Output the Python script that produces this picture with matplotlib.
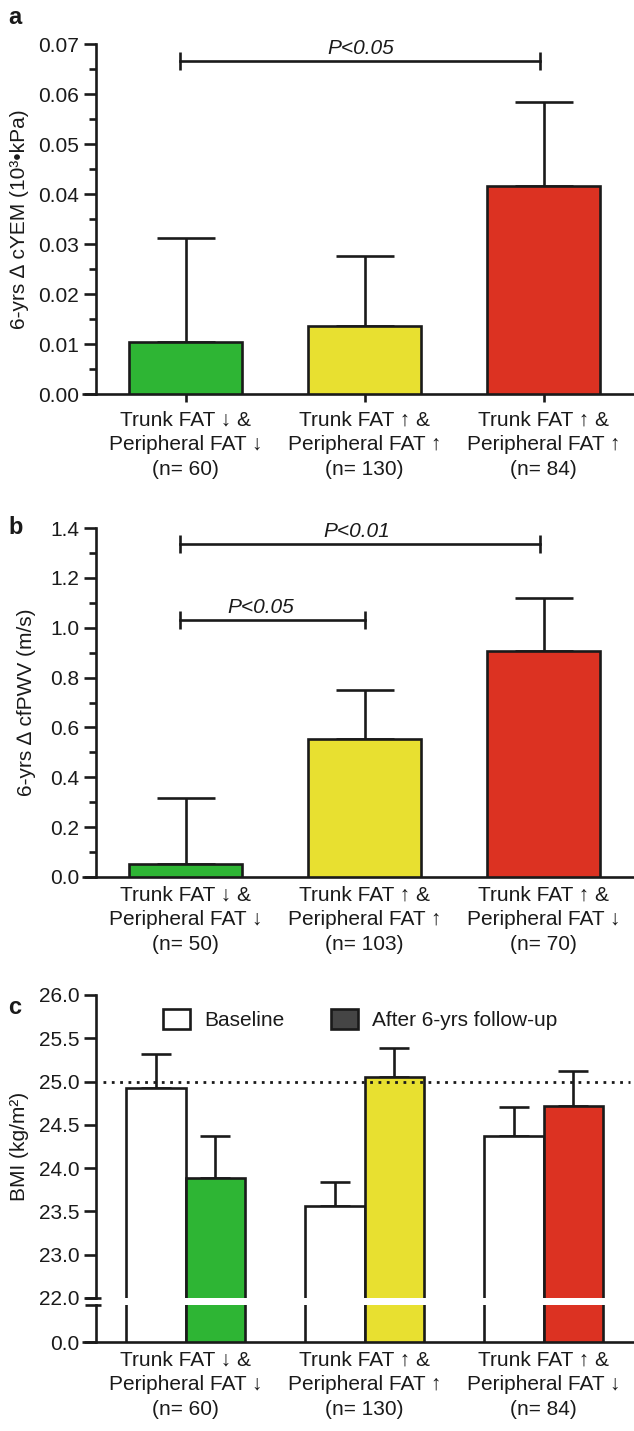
import numpy as np
import matplotlib
matplotlib.use("Agg")
import matplotlib.pyplot as plt
from matplotlib.patches import Patch

plt.rcParams['font.family'] = ['Liberation Sans', 'DejaVu Sans']

# ---------------- data ----------------
cat_a = ["Trunk FAT \u2193 &\nPeripheral FAT \u2193\n(n= 60)",
         "Trunk FAT \u2191 &\nPeripheral FAT \u2191\n(n= 130)",
         "Trunk FAT \u2191 &\nPeripheral FAT \u2191\n(n= 84)"]
cat_b = ["Trunk FAT \u2193 &\nPeripheral FAT \u2193\n(n= 50)",
         "Trunk FAT \u2191 &\nPeripheral FAT \u2191\n(n= 103)",
         "Trunk FAT \u2191 &\nPeripheral FAT \u2193\n(n= 70)"]
cat_c = ["Trunk FAT \u2193 &\nPeripheral FAT \u2193\n(n= 60)",
         "Trunk FAT \u2191 &\nPeripheral FAT \u2191\n(n= 130)",
         "Trunk FAT \u2191 &\nPeripheral FAT \u2193\n(n= 84)"]

cyem_mean = [0.0105, 0.0137, 0.0417]
cyem_err = [0.0207, 0.0140, 0.0168]

pwv_mean = [0.053, 0.553, 0.906]
pwv_err = [0.264, 0.196, 0.212]

bmi_base = [24.92, 23.56, 24.37]
bmi_base_err = [0.40, 0.28, 0.34]
bmi_follow = [23.89, 25.05, 24.72]
bmi_follow_err = [0.48, 0.34, 0.40]

colors = ["#2EB534", "#E8E030", "#DC3222"]
legend_labels = ["Baseline", "After 6-yrs follow-up"]

# ---------------- layout helpers ----------------
W, H = 634, 1431
fig = plt.figure(figsize=(W / 100, H / 100), dpi=100)
fig.patch.set_facecolor("white")
INK = "#1a1a1a"
FS = 15
LW = 1.9
LSP = 1.38

def add_ax(left, right, top, bottom):
    return fig.add_axes([left / W, 1 - bottom / H, (right - left) / W, (bottom - top) / H])

def style(ax, xticks=True, xext=True):
    for s in ["top", "right"]:
        ax.spines[s].set_visible(False)
    for s in ["left", "bottom"]:
        ax.spines[s].set_linewidth(LW)
        ax.spines[s].set_color(INK)
    ax.tick_params(axis="y", which="major", length=9, width=LW, color=INK,
                   labelsize=FS, labelcolor=INK, pad=3)
    ax.tick_params(axis="y", which="minor", length=5, width=LW, color=INK)
    ax.tick_params(axis="x", length=6 if xticks else 0, width=LW, color=INK,
                   labelsize=FS, labelcolor=INK, pad=6)
    ax.set_xlim(-0.5, 2.5)
    if xext:
        ax.plot([-0.026, 0], [0, 0], transform=ax.transAxes, color=INK, lw=LW,
                clip_on=False, solid_capstyle="butt")

def sig(ax, x0, x1, y, text, tx, capsz=13):
    ax.plot([x0, x1], [y, y], color=INK, lw=LW, marker="|", markersize=capsz,
            mew=LW, clip_on=False)
    ax.annotate(text, (tx, y), xytext=(0, 2), textcoords="offset points",
                ha="center", va="bottom", fontsize=FS, style="italic", color=INK)

x = np.arange(3)

# ---------------- panel a ----------------
axa = add_ax(96, 633, 44, 394)
axa.bar(x, cyem_mean, width=0.63, color=colors, edgecolor=INK, linewidth=LW, zorder=3)
axa.errorbar(x, cyem_mean, yerr=[np.zeros(3), cyem_err], fmt="none", ecolor=INK,
             elinewidth=LW, capsize=21, capthick=LW, zorder=2)
axa.set_ylim(0, 0.07)
axa.set_yticks(np.arange(0, 0.0701, 0.01))
axa.set_yticks(np.arange(0.005, 0.07, 0.01), minor=True)
axa.set_yticklabels([f"{v:.2f}" for v in np.arange(0, 0.0701, 0.01)])
axa.set_xticks(x)
axa.set_xticklabels(cat_a, linespacing=LSP)
style(axa, xticks=True)
axa.set_ylabel("6-yrs \u2206 cYEM (10\u00b3\u2022kPa)", fontsize=15, color=INK)
axa.yaxis.set_label_coords(-0.125, 0.5)
sig(axa, -0.028, 1.98, 0.0666, "P<0.05", 0.98)

# ---------------- panel b ----------------
axb = add_ax(96, 633, 528, 877)
axb.bar(x, pwv_mean, width=0.63, color=colors, edgecolor=INK, linewidth=LW, zorder=3)
axb.errorbar(x, pwv_mean, yerr=[np.zeros(3), pwv_err], fmt="none", ecolor=INK,
             elinewidth=LW, capsize=21, capthick=LW, zorder=2)
axb.set_ylim(0, 1.4)
axb.set_yticks(np.arange(0, 1.401, 0.2))
axb.set_yticks(np.arange(0.1, 1.4, 0.2), minor=True)
axb.set_yticklabels([f"{v:.1f}" for v in np.arange(0, 1.401, 0.2)])
axb.set_xticks(x)
axb.set_xticklabels(cat_b, linespacing=LSP)
style(axb, xticks=False)
axb.set_ylabel("6-yrs \u2206 cfPWV (m/s)", fontsize=15, color=INK)
axb.yaxis.set_label_coords(-0.112, 0.5)
sig(axb, -0.028, 1.98, 1.336, "P<0.01", 0.955)
sig(axb, -0.028, 1.0, 1.03, "P<0.05", 0.42)

# ---------------- panel c (broken axis) ----------------
def fwd(y):
    y = np.asarray(y, dtype=float)
    return np.where(y >= 23, y, 23 - (23 - y) / 2)

def inv(y):
    y = np.asarray(y, dtype=float)
    return np.where(y >= 23, y, 23 - (23 - y) * 2)

axc = add_ax(96, 633, 995, 1298)
axl = add_ax(96, 633, 1305, 1342)
bw = 0.33
off = 0.165
for ax, bottom in ((axc, 10.0), (axl, 0.0)):
    hb = np.array(bmi_base) - bottom
    hf = np.array(bmi_follow) - bottom
    ax.bar(x - off, hb, bottom=bottom, width=bw, color="white", edgecolor=INK,
           linewidth=LW, zorder=3)
    ax.bar(x + off, hf, bottom=bottom, width=bw, color=colors, edgecolor=INK,
           linewidth=LW, zorder=3)

axc.errorbar(x - off, bmi_base, yerr=[np.zeros(3), bmi_base_err], fmt="none",
             ecolor=INK, elinewidth=LW, capsize=11, capthick=LW, zorder=2)
axc.errorbar(x + off, bmi_follow, yerr=[np.zeros(3), bmi_follow_err], fmt="none",
             ecolor=INK, elinewidth=LW, capsize=11, capthick=LW, zorder=2)
axc.set_yscale("function", functions=(fwd, inv))
axc.set_ylim(22, 26)
ct = [22.0, 23.0, 23.5, 24.0, 24.5, 25.0, 25.5, 26.0]
axc.set_yticks(ct)
axc.set_yticklabels([f"{v:.1f}" for v in ct])
axc.yaxis.set_minor_locator(matplotlib.ticker.NullLocator())
axc.set_xticks([])
style(axc, xticks=False, xext=False)
axc.spines["bottom"].set_visible(False)
axc.axhline(25.0, xmin=0.013, xmax=0.995, color=INK, lw=2.0, ls=(0, (1, 2)), zorder=4)
axc.set_ylabel("BMI (kg/m\u00b2)", fontsize=15, color=INK)
axc.yaxis.set_label_coords(-0.125, 0.5)

axl.set_ylim(0, 1)
axl.set_yticks([0])
axl.set_yticklabels(["0.0"])
axl.set_xticks(x)
axl.set_xticklabels(cat_c, linespacing=LSP)
style(axl, xticks=False)

# break marks on the y axis
for ax, yy in ((axc, 0), (axl, 1)):
    ax.plot([-0.02, 0.009], [yy, yy], transform=ax.transAxes, color=INK, lw=LW,
            clip_on=False, solid_capstyle="butt")

# legend
handles = [Patch(facecolor="white", edgecolor=INK, linewidth=LW),
           Patch(facecolor="#454545", edgecolor=INK, linewidth=LW)]
axc.legend(handles, legend_labels, loc="upper left", bbox_to_anchor=(0.09, 1.015),
           ncol=2, frameon=False, fontsize=FS, handlelength=1.3, handleheight=1.05,
           columnspacing=2.2, handletextpad=0.7, labelcolor=INK)

# panel letters
fig.text(8 / W, 1 - 18 / H, "a", fontsize=17, fontweight="bold", va="center", color=INK)
fig.text(8 / W, 1 - 528 / H, "b", fontsize=17, fontweight="bold", va="center", color=INK)
fig.text(8 / W, 1 - 1007 / H, "c", fontsize=17, fontweight="bold", va="center", color=INK)

fig.savefig("out.png", dpi=100, facecolor="white")
